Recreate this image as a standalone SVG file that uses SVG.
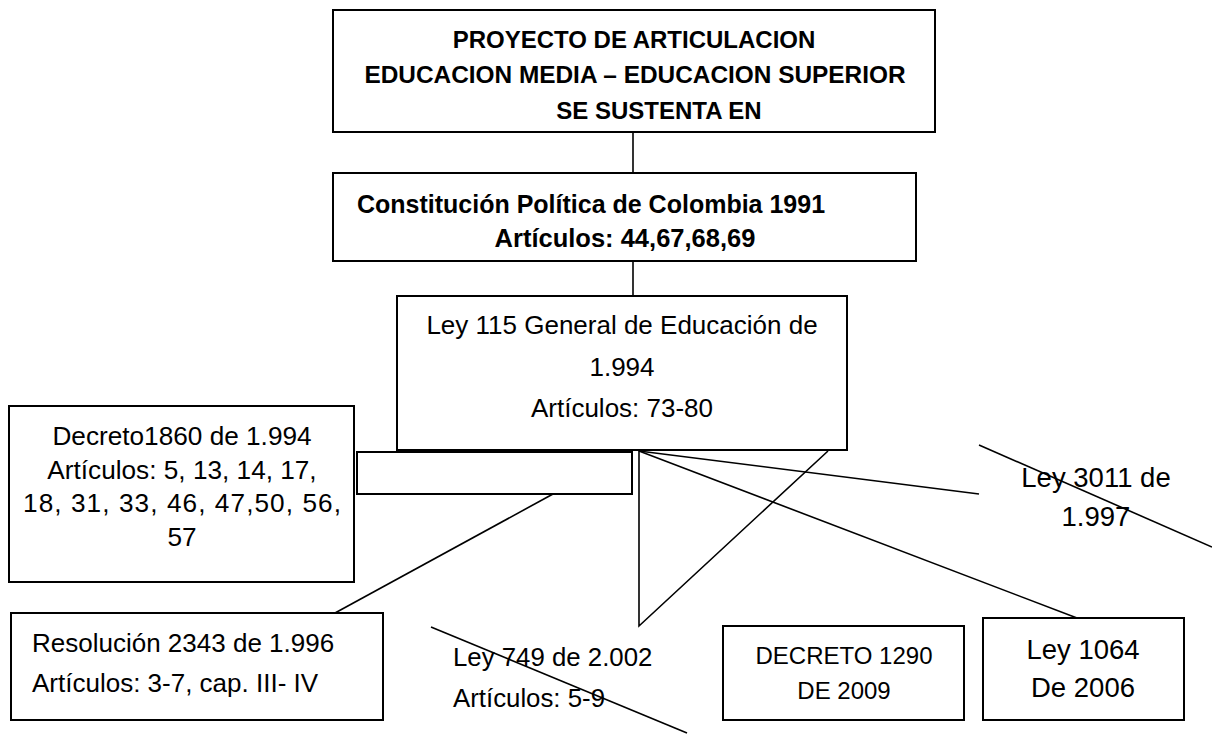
<svg xmlns="http://www.w3.org/2000/svg" width="1212" height="734" viewBox="0 0 1212 734">
<style>
.box{fill:#fff;stroke:#000;stroke-width:2}
.ln{fill:none;stroke:#000;stroke-width:1.6}
.t{font-family:"Liberation Sans",Arial,sans-serif;fill:#000}
.b{font-weight:bold}
.m{text-anchor:middle}
</style>
<rect width="1212" height="734" fill="#fff"/>
<g id="connectors">
<line class="ln" x1="633" y1="132" x2="633" y2="173"/>
<line class="ln" x1="633" y1="261" x2="633" y2="296"/>
<line class="ln" x1="553" y1="494" x2="335" y2="613"/>
<polyline class="ln" points="639,451 639,626 828,451"/>
<line class="ln" x1="639" y1="451" x2="979" y2="494"/>
<line class="ln" x1="639" y1="451" x2="1077" y2="618"/>
<line class="ln" x1="979" y1="445" x2="1212" y2="547"/>
<line class="ln" x1="431" y1="627" x2="687" y2="733"/>
</g>
<g id="n-proyecto">
<rect class="box" x="333" y="10" width="602" height="122"/>
<text class="t b m" font-size="24" x="634" y="48">PROYECTO DE ARTICULACION</text>
<text class="t b m" font-size="24.4" x="635" y="83">EDUCACION MEDIA – EDUCACION SUPERIOR</text>
<text class="t b m" font-size="24" x="659" y="119">SE SUSTENTA EN</text>
</g>
<g id="n-constitucion">
<rect class="box" x="333" y="173" width="583" height="88"/>
<text class="t b m" font-size="25" x="591" y="213">Constitución Política de Colombia 1991</text>
<text class="t b m" font-size="25.5" x="625" y="247">Artículos: 44,67,68,69</text>
</g>
<g id="n-ley115">
<rect class="box" x="397" y="296" width="450" height="154"/>
<text class="t m" font-size="26" x="622" y="334">Ley 115 General de Educación de</text>
<text class="t m" font-size="26" x="622" y="376">1.994</text>
<text class="t m" font-size="26" x="622" y="417">Artículos: 73-80</text>
</g>
<g id="n-decreto1860">
<rect class="box" x="9" y="406" width="345" height="176"/>
<text class="t m" font-size="26.2" x="182" y="445">Decreto1860 de 1.994</text>
<text class="t m" font-size="26.2" x="182" y="478.5">Artículos: 5, 13, 14, 17,</text>
<text class="t m" font-size="26.2" x="182" y="512" textLength="318" lengthAdjust="spacing">18, 31, 33, 46, 47,50, 56,</text>
<text class="t m" font-size="26.2" x="182" y="545.5">57</text>
</g>
<g id="n-empty">
<rect class="box" x="357" y="452" width="275" height="42"/>
</g>
<g id="n-resolucion">
<rect class="box" x="11" y="613" width="372" height="107"/>
<text class="t" font-size="26" x="32" y="652">Resolución 2343 de 1.996</text>
<text class="t" font-size="26" x="32" y="692">Artículos: 3-7, cap. III- IV</text>
</g>
<g id="n-ley749">
<text class="t" font-size="25.8" x="453" y="666">Ley 749 de 2.002</text>
<text class="t" font-size="25.8" x="453" y="707">Artículos: 5-9</text>
</g>
<g id="n-decreto1290">
<rect class="box" x="723" y="626" width="241" height="94"/>
<text class="t m" font-size="24" x="844" y="664">DECRETO 1290</text>
<text class="t m" font-size="24" x="844" y="699">DE 2009</text>
</g>
<g id="n-ley1064">
<rect class="box" x="983" y="618" width="201" height="102"/>
<text class="t m" font-size="27.5" x="1083" y="659">Ley 1064</text>
<text class="t m" font-size="27.5" x="1083" y="697">De 2006</text>
</g>
<g id="n-ley3011">
<text class="t m" font-size="27.5" x="1096" y="487">Ley 3011 de</text>
<text class="t m" font-size="27.5" x="1096" y="526">1.997</text>
</g>
</svg>
